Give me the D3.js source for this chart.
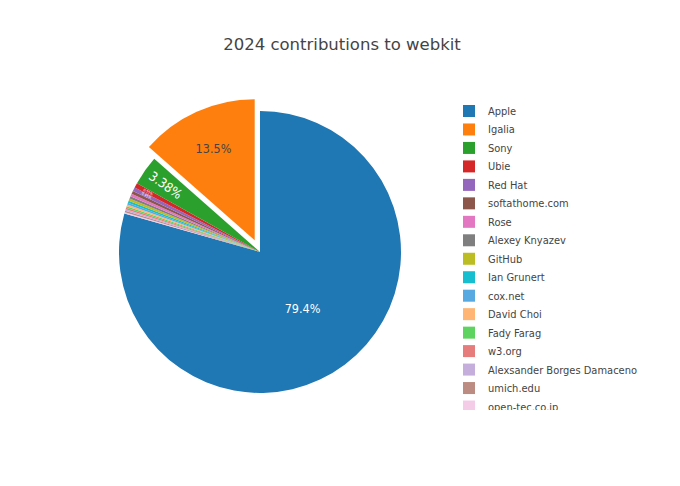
<!DOCTYPE html>
<html><head><meta charset="utf-8">
<script src="https://cdn.jsdelivr.net/npm/d3@7"></script>
<style>body{margin:0;background:#fff}svg{display:block;font-family:"DejaVu Sans Condensed","DejaVu Sans",verdana,sans-serif}</style>
</head><body>
<svg id="chart" width="680" height="486"></svg>
<script>
// Data (percent share of contributions), legend order
const labels = ["Apple","Igalia","Sony","Ubie","Red Hat","softathome.com","Rose","Alexey Knyazev","GitHub","Ian Grunert","cox.net","David Choi","Fady Farag","w3.org","Alexsander Borges Damaceno","umich.edu","open-tec.co.jp"];
const values = [79.4,13.5,3.38,0.55,0.45,0.35,0.30,0.28,0.26,0.24,0.22,0.20,0.19,0.18,0.17,0.17,0.16];
const pulledLabels = ["Igalia"];
const title = "2024 contributions to webkit";

const svg = d3.select("#chart");
const W = 680, H = 486;
svg.append("rect").attr("width", W).attr("height", H).attr("fill", "#fff");

// Plotly colorway, extended with lighter / darker variants
const base = ["#1f77b4","#ff7f0e","#2ca02c","#d62728","#9467bd","#8c564b","#e377c2","#7f7f7f","#bcbd22","#17becf"];
const ext = base.slice();
base.forEach(c => { const h = d3.hsl(c); h.l = Math.min(1, h.l + 0.2); ext.push(h.formatHex()); });
base.forEach(c => { const h = d3.hsl(c); h.l = Math.max(0, h.l - 0.2); ext.push(h.formatHex()); });
const color = d3.scaleOrdinal().domain(labels).range(ext);

const data = labels.map((l, i) => ({label: l, value: values[i], idx: i}));
const total = d3.sum(values);
const fmt = d3.format(".3~p");

// Drawing order: first slice clockwise from 12 o'clock, remaining slices follow from smallest to largest
const drawOrder = [data[0]].concat(data.slice(1).reverse());
const pie = d3.pie().sort(null).value(d => d.value).startAngle(0).endAngle(2 * Math.PI);
const arcs = pie(drawOrder);

const cx = 260, cy = 252, R = 141;
const arc = d3.arc().innerRadius(0).outerRadius(R);
const g = svg.append("g").attr("transform", `translate(${cx},${cy})`);

const pullPx = 0.092 * R;
function offset(a) {
  if (!pulledLabels.includes(a.data.label)) return [0, 0];
  const m = (a.startAngle + a.endAngle) / 2;
  return [Math.sin(m) * pullPx, -Math.cos(m) * pullPx];
}

g.selectAll("path.slice").data(arcs).join("path")
  .attr("class", "slice")
  .attr("d", arc)
  .attr("fill", d => color(d.data.label))
  .attr("transform", d => { const o = offset(d); return `translate(${o[0]},${o[1]})`; });

// Slice labels
function textColor(c) {
  const rgb = d3.rgb(c);
  const lum = 0.299 * rgb.r + 0.587 * rgb.g + 0.114 * rgb.b;
  return lum > 140 ? "#444" : "#fff";
}
arcs.forEach(a => {
  const frac = a.data.value / total;
  const m = (a.startAngle + a.endAngle) / 2;
  const o = offset(a);
  let rr, size, rot = 0;
  if (frac > 0.5) { rr = 0.5; size = 12.5; }
  else if (frac > 0.1) { rr = 0.71; size = 12.5; }
  else if (frac > 0.02) { rr = 0.82; size = 13; rot = m * 180 / Math.PI - 270; }
  else if (frac > 0.004) { rr = 0.9; size = 3.6; rot = m * 180 / Math.PI - 270; }
  else return;
  const x = o[0] + Math.sin(m) * R * rr, y = o[1] - Math.cos(m) * R * rr;
  g.append("text")
    .attr("transform", `translate(${x},${y}) rotate(${rot})`)
    .attr("text-anchor", "middle").attr("dy", "0.35em")
    .attr("font-size", size)
    .attr("fill", textColor(color(a.data.label)))
    .text(fmt(frac));
});

// Title
svg.append("text").attr("x", 342).attr("y", 50)
  .attr("text-anchor", "middle").attr("font-size", 16.5).attr("fill", "#444")
  .style("font-family", '"DejaVu Sans",verdana,sans-serif')
  .text(title);

// Legend (clipped, like a scrolling legend box)
svg.append("defs").append("clipPath").attr("id", "legclip")
  .append("rect").attr("x", 450).attr("y", 100).attr("width", 230).attr("height", 310);
const leg = svg.append("g").attr("clip-path", "url(#legclip)");
const rowY = d3.scaleLinear().domain([0, 1]).range([111, 129.47]);
const items = leg.selectAll("g.item").data(data).join("g")
  .attr("class", "item")
  .attr("transform", d => `translate(469,${rowY(d.idx)})`);
items.append("rect").attr("x", -6).attr("y", -6).attr("width", 12).attr("height", 12)
  .attr("fill", d => color(d.label));
items.append("text").attr("x", 19).attr("y", 4)
  .attr("font-size", 11).attr("fill", "#444")
  .text(d => d.label);
</script>
</body></html>
